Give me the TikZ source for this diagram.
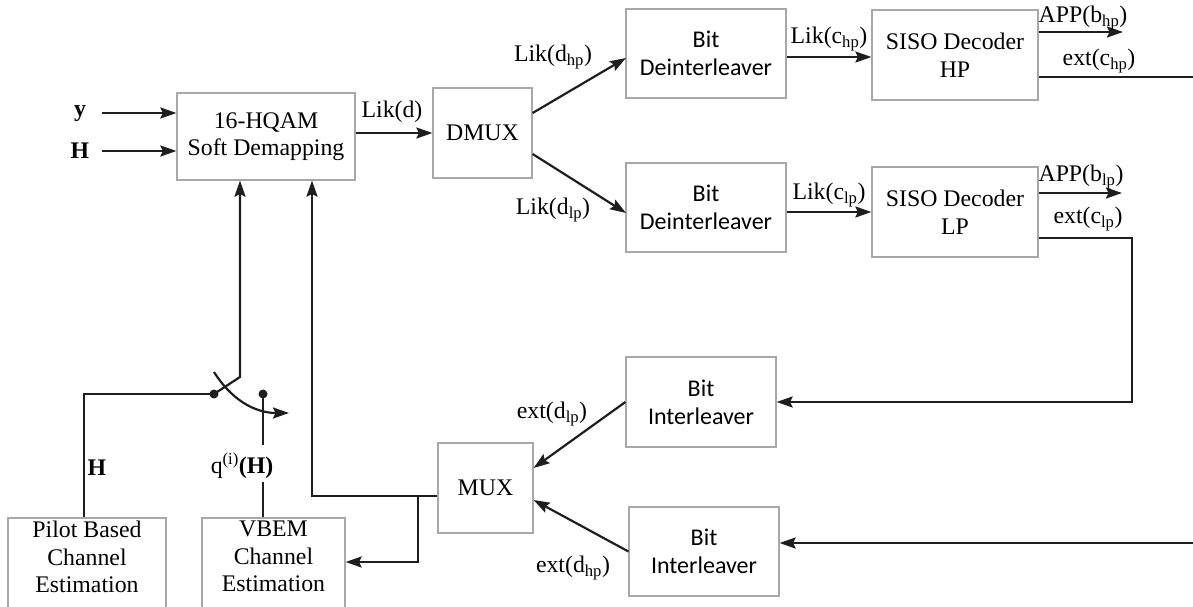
\documentclass[tikz,border=0pt]{standalone}
\usepackage{fontspec}
\setmainfont{Liberation Serif}
\newfontfamily\calfont{Carlito}
\usetikzlibrary{arrows.meta}
\definecolor{boxgray}{HTML}{A8A8A8}
\definecolor{linecol}{HTML}{1E1E1E}
\newcommand\lsb[1]{\textsubscript{#1}}
\begin{document}
\begin{tikzpicture}[x=1pt,y=-1pt,
  every node/.style={font=\fontsize{23.8}{27.5}\selectfont, inner sep=0pt},
  blk/.style={draw=boxgray, line width=1.2pt, align=center, fill=white},
  calblk/.style={blk, font=\calfont\fontsize{24}{28}\selectfont},
  conn/.style={draw=linecol, line width=2.2pt},
  arr/.style={conn, -{Stealth[length=16pt,width=11pt,inset=2.5pt]}},
  lbl/.style={inner sep=0pt},
  dot/.style={circle, fill=linecol, minimum size=9pt, inner sep=0pt}]
\useasboundingbox (0,0) rectangle (1193,607);

% blocks
\node[blk, minimum width=178pt, minimum height=87pt] (demap) at (266,136.5) {16-HQAM\\Soft Demapping};
\node[blk, minimum width=99pt, minimum height=90pt] (dmux) at (482.5,133) {DMUX};
\node[calblk, minimum width=160pt, minimum height=89pt] (deintT) at (706,53.5) {Bit\\Deinterleaver};
\node[calblk, minimum width=160pt, minimum height=89pt] (deintB) at (706,207.5) {Bit\\Deinterleaver};
\node[blk, minimum width=166pt, minimum height=90pt] (sisoHP) at (955,55) {SISO Decoder\\HP};
\node[blk, minimum width=166pt, minimum height=90pt] (sisoLP) at (955,212) {SISO Decoder\\LP};
\node[calblk, minimum width=150pt, minimum height=90pt] (intT) at (701,402) {Bit\\Interleaver};
\node[calblk, minimum width=150pt, minimum height=89pt] (intB) at (704,551.5) {Bit\\Interleaver};
\node[blk, minimum width=95pt, minimum height=90pt] (mux) at (485.5,488) {MUX};
\node[blk, minimum width=158pt, minimum height=97pt] (pilot) at (87,566.5) {};
\node[anchor=north, align=center] (pilott) at (87,521) {Pilot Based\\Channel\\Estimation};
\node[blk, minimum width=143pt, minimum height=97pt] (vbem) at (273.5,566.5) {};
\node[anchor=north, align=center] (vbemt) at (273.5,521) {VBEM\\Channel\\Estimation};

% inputs
\node[lbl] (yin) at (80,114) {\textbf{y}};
\node[lbl] (Hin) at (80,151) {\textbf{H}};
\coordinate (ys) at (102,113);
\coordinate (Hs) at (102,151);
\draw[arr] (ys) -- (demap.west |- ys);
\draw[arr] (Hs) -- (demap.west |- Hs);

% demapper -> dmux
\draw[arr] (demap.east |- dmux.west) -- (dmux.west);
\node[lbl] (likd) at (392,112) {Lik(d)};

% dmux -> deinterleavers
\coordinate (dT) at (626,58);
\coordinate (dB) at (626,213);
\draw[arr] (dmux.east |- 0,113) -- (dT);
\draw[arr] (dmux.east |- 0,154) -- (dB);
\node[lbl] (likdhp) at (553,57) {Lik(d\lsb{hp})};
\node[lbl] (likdlp) at (553,210) {Lik(d\lsb{lp})};

% deinterleavers -> SISO
\draw[arr] (deintT.east |- 0,57) -- (sisoHP.west |- 0,57);
\draw[arr] (deintB.east |- 0,212) -- (sisoLP.west |- 0,212);
\node[lbl] (likchp) at (829,39) {Lik(c\lsb{hp})};
\node[lbl] (likclp) at (829,195) {Lik(c\lsb{lp})};

% SISO outputs
\coordinate (appHPe) at (1123,32);
\coordinate (extHPe) at (1193,77);
\coordinate (appLPe) at (1122,193);
\coordinate (cLP1) at (1132,238);
\coordinate (cLP2) at (1132,402);
\draw[arr] (sisoHP.east |- appHPe) -- (appHPe);
\draw[conn] (sisoHP.east |- extHPe) -- (extHPe);
\draw[arr] (sisoLP.east |- appLPe) -- (appLPe);
\draw[arr] (sisoLP.east |- cLP1) -- (cLP1) -- (cLP2) -- (intT.east);
\node[lbl] (apphp) at (1083,18) {APP(b\lsb{hp})};
\node[lbl] (exthp) at (1099,61) {ext(c\lsb{hp})};
\node[lbl] (applp) at (1081,177) {APP(b\lsb{lp})};
\node[lbl] (extlp) at (1088,219) {ext(c\lsb{lp})};

% lower input to interleaver
\coordinate (inB) at (1193,543);
\draw[arr] (inB) -- (intB.east |- inB);

% interleavers -> MUX
\draw[arr] (intT.west) -- (mux.east |- 0,468);
\draw[arr] (intB.west) -- (mux.east |- 0,500);
\node[lbl] (extdlp) at (552,414) {ext(d\lsb{lp})};
\node[lbl] (extdhp) at (573,568) {ext(d\lsb{hp})};

% MUX output feedback
\coordinate (mj) at (418,496);
\coordinate (mc) at (312,496);
\draw[arr] (mux.west |- mj) -- (mc) -- (demap.south -| mc);
\draw[arr] (mj) |- (vbem.east |- 0,562);

% switch
\node[dot] (swA) at (214,394) {};
\node[dot] (swB) at (263,394) {};
\coordinate (swK) at (240,377);
\draw[conn] (pilot.north -| 84,0) |- (swA.center);
\draw[arr] (swA.center) -- (swK) -- (demap.south -| swK);
\draw[arr] (214,372) .. controls (235,405) and (260,413) .. (289,413);
\node[lbl] (Hl) at (97,468) {\textbf{H}};
\node[lbl] (qH) at (242,466) {q\textsuperscript{(i)}\textbf{(H)}};
\draw[conn] (swB.center) -- (263,445);
\draw[conn] (263,482) -- (vbem.north -| 263,0);
\end{tikzpicture}
\end{document}
